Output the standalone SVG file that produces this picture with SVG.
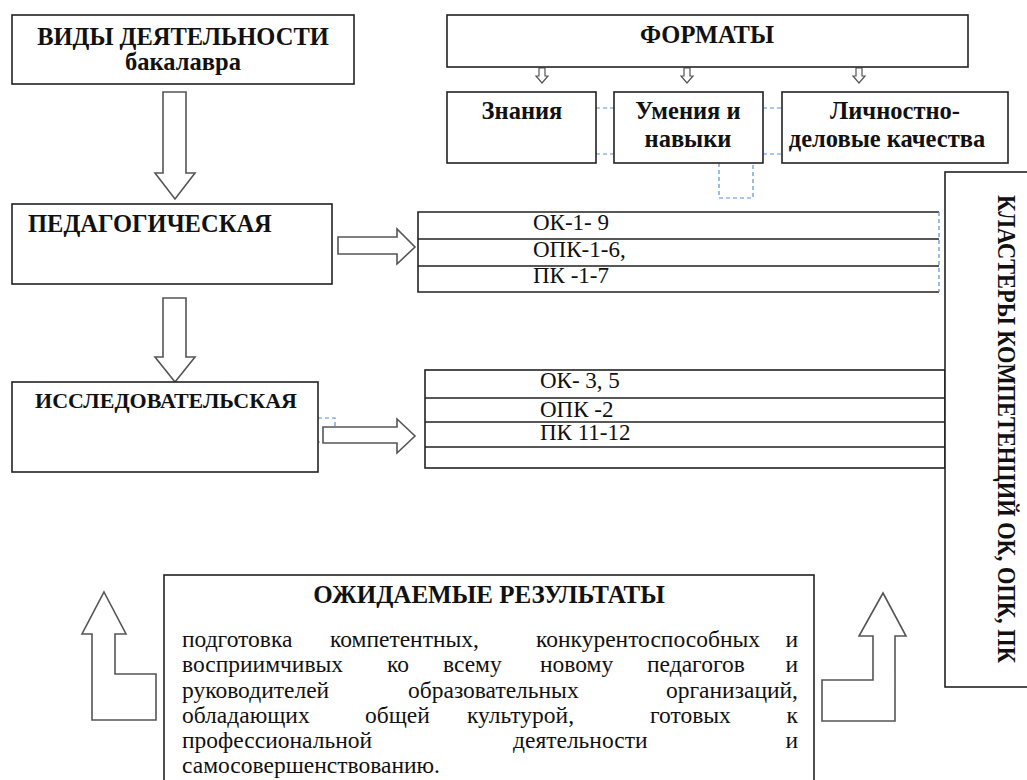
<svg xmlns="http://www.w3.org/2000/svg" width="1027" height="780" viewBox="0 0 1027 780">
<style>
.box{fill:#fff;stroke:#222;stroke-width:1.6}
.arr{fill:#fff;stroke:#555;stroke-width:1.6;stroke-linejoin:miter}
.dash{fill:none;stroke:#5b8fd9;stroke-width:1.2;stroke-dasharray:4 3}
text{font-family:'Liberation Serif','Times New Roman',serif;fill:#111}
.h{font-weight:bold;font-size:24.5px}
.t{font-size:23px}
.p{font-size:23.5px}
.line{stroke:#222;stroke-width:1.6}
</style>
<rect width="1027" height="780" fill="#fff"/>

<g id="connectors">
  <line class="dash" x1="596" y1="108" x2="614" y2="108"/>
  <line class="dash" x1="596" y1="154" x2="614" y2="154"/>
  <line class="dash" x1="763" y1="108" x2="782" y2="108"/>
  <line class="dash" x1="763" y1="154" x2="782" y2="154"/>
  <path class="dash" d="M719 163 V198 H753 V163"/>
  <path class="dash" d="M318 418 H335 V442 H318"/>
  <polygon class="arr" points="539,68 545,68 545,76 548,76 542,83 536,76 539,76" style="stroke-width:1.2"/>
  <polygon class="arr" points="684,68 690,68 690,76 693,76 687,83 681,76 684,76" style="stroke-width:1.2"/>
  <polygon class="arr" points="856,68 862,68 862,76 865,76 859,83 853,76 856,76" style="stroke-width:1.2"/>
  <polygon class="arr" points="163,92 186,92 186,173 195,173 175,199 155,173 163,173"/>
  <polygon class="arr" points="163,298 186,298 186,357 195,357 175,382 155,357 163,357"/>
  <polygon class="arr" points="338,237 397,237 397,229 415,247 397,264 397,254 338,254"/>
  <polygon class="arr" points="323,427 397,427 397,419 415,436 397,453 397,443 323,443"/>
  <polygon class="arr" points="104,592 126,634 115,634 115,674 156,674 156,720 92,720 92,634 82,634"/>
  <polygon class="arr" points="883,593 906,636 895,636 895,721 822,721 822,680 873,680 873,636 859,636"/>
</g>

<g id="node-vidy">
  <rect class="box" x="12" y="15" width="342" height="69"/>
  <text class="h" x="183" y="45" text-anchor="middle">ВИДЫ ДЕЯТЕЛЬНОСТИ</text>
  <text class="h" x="183" y="70" text-anchor="middle">бакалавра</text>
</g>

<g id="node-formaty">
  <rect class="box" x="447" y="15" width="521" height="52"/>
  <text class="h" x="707" y="43" text-anchor="middle">ФОРМАТЫ</text>
</g>

<g id="node-znaniya">
  <rect class="box" x="447" y="92" width="149" height="71"/>
  <text class="h" x="522" y="119" text-anchor="middle">Знания</text>
</g>

<g id="node-umeniya">
  <rect class="box" x="614" y="92" width="149" height="71"/>
  <text class="h" x="688" y="119" text-anchor="middle">Умения и</text>
  <text class="h" x="688" y="147" text-anchor="middle">навыки</text>
</g>

<g id="node-lichnostno">
  <rect class="box" x="782" y="92" width="226" height="71"/>
  <text class="h" x="895" y="119" text-anchor="middle">Личностно-</text>
  <text class="h" x="887" y="147" text-anchor="middle">деловые качества</text>
</g>

<g id="node-pedagog">
  <rect class="box" x="12" y="204" width="320" height="80"/>
  <text class="h" x="28" y="232">ПЕДАГОГИЧЕСКАЯ</text>
</g>

<g id="node-issled">
  <rect class="box" x="12" y="382" width="306" height="90"/>
  <text class="h" x="166" y="408" text-anchor="middle" style="font-size:22px">ИССЛЕДОВАТЕЛЬСКАЯ</text>
</g>

<g id="node-table1">
  <path class="line" d="M939 212 H418 V292 H939 M418 239 H939 M418 266 H939" fill="none"/>
  <line class="dash" x1="939" y1="212" x2="939" y2="292"/>
  <text class="t" x="533" y="230">ОК-1- 9</text>
  <text class="t" x="533" y="257">ОПК-1-6,</text>
  <text class="t" x="533" y="283">ПК -1-7</text>
</g>

<g id="node-table2">
  <rect class="box" x="425" y="370" width="520" height="98" fill="none"/>
  <path class="line" d="M425 398 H945 M425 422 H945 M425 447 H945"/>
  <text class="t" x="540" y="388">ОК- 3, 5</text>
  <text class="t" x="540" y="417">ОПК -2</text>
  <text class="t" x="540" y="440">ПК 11-12</text>
</g>

<g id="node-klastery">
  <rect class="box" x="945" y="172" width="90" height="515"/>
  <text class="h" transform="translate(998,429) rotate(90)" text-anchor="middle" style="font-size:25px" textLength="468" lengthAdjust="spacingAndGlyphs">КЛАСТЕРЫ КОМПЕТЕНЦИЙ ОК, ОПК, ПК</text>
</g>

<g id="node-results">
  <rect class="box" x="164" y="575" width="650" height="215"/>
  <text class="h" x="489" y="603" text-anchor="middle" style="font-size:25px">ОЖИДАЕМЫЕ РЕЗУЛЬТАТЫ</text>
  <g class="p">
    <text x="182" y="647">подготовка</text>
    <text x="330" y="647">компетентных,</text>
    <text x="536" y="647">конкурентоспособных</text>
    <text x="798" y="647" text-anchor="end">и</text>
    <text x="182" y="672">восприимчивых</text>
    <text x="387" y="672">ко</text>
    <text x="443" y="672">всему</text>
    <text x="540" y="672">новому</text>
    <text x="647" y="672">педагогов</text>
    <text x="798" y="672" text-anchor="end">и</text>
    <text x="182" y="698">руководителей</text>
    <text x="408" y="698">образовательных</text>
    <text x="798" y="698" text-anchor="end">организаций,</text>
    <text x="182" y="723">обладающих</text>
    <text x="365" y="723">общей</text>
    <text x="467" y="723">культурой,</text>
    <text x="650" y="723">готовых</text>
    <text x="798" y="723" text-anchor="end">к</text>
    <text x="182" y="748">профессиональной</text>
    <text x="513" y="748">деятельности</text>
    <text x="798" y="748" text-anchor="end">и</text>
    <text x="182" y="773">самосовершенствованию.</text>
  </g>
</g>
</svg>
